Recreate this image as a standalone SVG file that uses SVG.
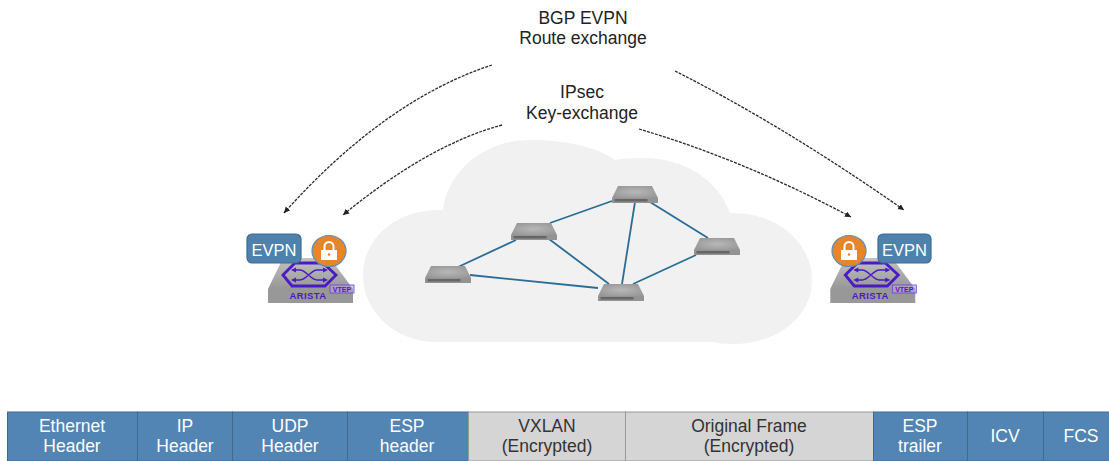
<svg xmlns="http://www.w3.org/2000/svg" width="1109" height="461" viewBox="0 0 1109 461">
<style>
text{font-family:"Liberation Sans",Arial,sans-serif;text-anchor:middle}
.lab{font-size:17.500px;fill:#222}
.w{font-size:17.500px;fill:#fff}
.g{font-size:17.500px;fill:#333}
.b{fill:#5284b4;stroke:#44688a;stroke-width:1}
.e{fill:#d5d5d5;stroke:#999;stroke-width:1}
.link{stroke:#2a6d96;stroke-width:1.800;fill:none}
.dash{stroke:#2a2a2a;stroke-width:1.300;stroke-dasharray:3 1.200;fill:none;marker-end:url(#tip)}
.evpn{fill:#4f81ad;stroke:#3a6d98;stroke-width:1.200}
.evt{font-size:16.500px;fill:#fff}
.ar{font-size:9.500px;font-weight:bold;fill:#4a1bc4;letter-spacing:.4px}
.vt{font-size:7px;font-weight:bold;fill:#4a1bc4}
</style>
<defs>
<marker id="tip" markerWidth="8" markerHeight="8" refX="6" refY="3" orient="auto" markerUnits="userSpaceOnUse"><path d="M0 0L6 3L0 6z" fill="#222"/></marker>
<radialGradient id="top" cx=".5" cy=".5" r=".6"><stop offset="0" stop-color="#b8b8b8"/><stop offset="1" stop-color="#979797"/></radialGradient>
<linearGradient id="base" x1="0" y1="0" x2="0" y2="1"><stop offset="0" stop-color="#c2c2c2"/><stop offset="1" stop-color="#979797"/></linearGradient>
<g id="sw">
<path d="M0 12L6 0H40L46 12z" fill="url(#top)"/>
<rect x="0" y="12" width="46" height="5" fill="#939393"/>
<rect x="2.500" y="13" width="33" height="2.500" fill="#666"/>
</g>
<g id="vtep">
<path d="M283 258H330L353 289H268z" fill="url(#base)"/>
<rect x="268" y="289" width="85" height="14" fill="#989898"/>
<path d="M283 275L295 263H323L336 275L325 286H292z" fill="none" stroke="#4a1bc4" stroke-width="2.800"/>
<path d="M293 270H300C306 270 311 280 317 280H326M293 280H300C306 280 311 270 317 270H326" fill="none" stroke="#4a1bc4" stroke-width="1.500"/>
<path d="M291 270L296 267.500V272.500zM291 280L296 277.500V282.500zM328 270L323 267.500V272.500zM328 280L323 277.500V282.500z" fill="#4a1bc4"/>
<rect x="330" y="285" width="24" height="8" fill="#b9a6e6" fill-opacity=".55" stroke="#6a3fd6" stroke-width=".8"/>
<text class="vt" x="342" y="291.500">VTEP</text>
<text class="ar" x="308" y="299">ARISTA</text>
</g>
<g id="lock">
<ellipse cx="0" cy="0" rx="17" ry="15.500" fill="#e5862b" stroke="#5f8db5" stroke-width="1.200"/>
<path d="M-4.500 -1V-4.500A4.500 4.500 0 0 1 4.500 -4.500V-1" fill="none" stroke="#fff" stroke-width="2"/>
<path d="M-8 -1H8V9H-8z M-1.300 3.500A1.300 1.300 0 1 0 1.300 3.500A1.300 1.300 0 1 0 -1.300 3.500z" fill="#fff" fill-rule="evenodd"/>
</g>
</defs>

<g id="cloud"><path d="M443 210C448 170 485 140 530 140C570 140 598 148 615 160C625 158 634 158 643 158C685 158 718 180 730 213C780 212 812 245 812 280C812 317 777 344 733 344C725 344 718 343 713 342H448L437 342C395 342 363 312 363 275C363 238 397 208 443 210z" fill="#f1f1f1"/></g>

<g id="connectors">
<path class="link" d="M458 267L516 240M550 223L612 201M549 239L609 284M635 202L622 284M650 202L708 238M696 255L633 284M470 275L598 288"/>
<path class="dash" d="M492 65Q385 100 284 213"/>
<path class="dash" d="M502 125Q428 145 343 215"/>
<path class="dash" d="M675 71Q784 126 904 210"/>
<path class="dash" d="M639 129Q744 160 851 217"/>
</g>

<g id="sw1"><use href="#sw" x="425" y="266"/></g>
<g id="sw2"><use href="#sw" x="511" y="223"/></g>
<g id="sw3"><use href="#sw" x="612" y="186"/></g>
<g id="sw4"><use href="#sw" x="694" y="238"/></g>
<g id="sw5"><use href="#sw" x="598" y="284"/></g>

<g id="vtep-left">
<use href="#vtep"/>
<rect class="evpn" x="247" y="234" width="54" height="29" rx="5"/>
<text class="evt" x="274" y="255.500">EVPN</text>
<use href="#lock" x="329" y="251"/>
</g>
<g id="vtep-right">
<use href="#vtep" x="562.300"/>
<use href="#lock" x="849" y="251"/>
<rect class="evpn" x="878" y="234" width="53" height="29" rx="5"/>
<text class="evt" x="904.500" y="255.500">EVPN</text>
</g>

<g id="label-bgp"><text class="lab" x="583" y="24">BGP EVPN</text><text class="lab" x="583" y="44">Route exchange</text></g>
<g id="label-ipsec"><text class="lab" x="582" y="98">IPsec</text><text class="lab" x="582" y="119">Key-exchange</text></g>

<g id="frame">
<g id="f-eth"><rect class="b" x="7.500" y="412" width="130" height="49"/><text class="w" x="72" y="432">Ethernet</text><text class="w" x="72" y="452">Header</text></g>
<g id="f-ip"><rect class="b" x="137.500" y="412" width="95" height="49"/><text class="w" x="185" y="432">IP</text><text class="w" x="185" y="452">Header</text></g>
<g id="f-udp"><rect class="b" x="232.500" y="412" width="115" height="49"/><text class="w" x="290" y="432">UDP</text><text class="w" x="290" y="452">Header</text></g>
<g id="f-esp"><rect class="b" x="347.500" y="412" width="121" height="49"/><text class="w" x="407" y="432">ESP</text><text class="w" x="407" y="452">header</text></g>
<g id="f-vx"><rect class="e" x="468.500" y="412" width="157" height="49"/><text class="g" x="547" y="432">VXLAN</text><text class="g" x="547" y="452">(Encrypted)</text></g>
<g id="f-orig"><rect class="e" x="625.500" y="412" width="248" height="49"/><text class="g" x="749" y="432">Original Frame</text><text class="g" x="749" y="452">(Encrypted)</text></g>
<g id="f-trail"><rect class="b" x="873.500" y="412" width="94" height="49"/><text class="w" x="920" y="432">ESP</text><text class="w" x="920" y="452">trailer</text></g>
<g id="f-icv"><rect class="b" x="967.500" y="412" width="76" height="49"/><text class="w" x="1005" y="442">ICV</text></g>
<g id="f-fcs"><rect class="b" x="1043.500" y="412" width="70" height="49"/><text class="w" x="1081" y="442">FCS</text></g>
</g>
</svg>
